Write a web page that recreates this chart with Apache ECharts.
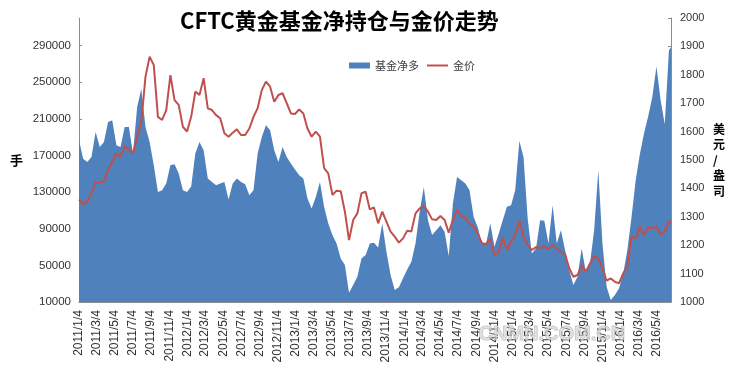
<!DOCTYPE html>
<html><head><meta charset="utf-8">
<script src="https://cdn.jsdelivr.net/npm/echarts@6/dist/echarts.min.js"></script>
<style>html,body{margin:0;padding:0;background:#fff}#c{width:738px;height:370px}</style>
</head><body><div id="c"></div>
<script>
// --- data (biweekly readings from 2011/1/4, last value is 2016/6/21) ---
const startDateLabel = '2011/1/4';
const endDateLabel = '2016/6/21';
const stepDays = 14;
const netLong = [
186500,166500,162900,168300,195500,179200,184700,206400,208300,181000,
179200,201000,201000,172000,222800,242800,201000,184700,159300,130200,
132000,139300,159300,160400,150200,132000,130200,136000,172000,184700,
175600,144800,141100,137500,139300,141100,121900,139300,144800,141100,
138600,126600,132000,172000,190100,202800,197400,175600,162900,179200,
168300,161100,154600,148400,144800,123000,112100,124700,141100,113900,
95700,83000,73900,57600,50300,20000,28500,37600,57600,61200,
73900,74600,69600,95700,64800,39400,23100,26000,35800,45600,
53900,73900,108400,135600,99300,83000,88400,93900,86600,60100,
117500,146500,142900,139300,132000,102900,91400,73900,73900,95700,
70200,84100,99300,113900,115700,132000,185700,168300,101200,63000,
68500,99300,98600,73900,115700,73900,88400,66700,44900,28500,
37600,68500,43000,52100,88400,153800,73900,26700,12200,17600,
24900,41200,66700,102900,142900,171300,193800,212600,233700,267100,
230100,203900,284600,288200
];
const goldPrice = [
1361,1345,1353,1385,1420,1420,1425,1465,1494,1523,
1512,1547,1538,1523,1582,1635,1793,1864,1834,1652,
1641,1676,1799,1711,1694,1617,1600,1652,1741,1729,
1788,1682,1676,1658,1647,1594,1582,1596,1608,1588,
1588,1611,1652,1682,1746,1776,1758,1705,1729,1735,
1700,1664,1662,1678,1664,1611,1582,1600,1582,1471,
1453,1377,1392,1390,1318,1218,1289,1312,1383,1388,
1326,1333,1277,1318,1283,1248,1230,1209,1224,1251,
1248,1312,1330,1338,1318,1291,1289,1303,1289,1244,
1289,1324,1303,1295,1277,1265,1239,1207,1204,1224,
1165,1174,1228,1183,1212,1236,1286,1230,1201,1183,
1193,1190,1195,1186,1201,1186,1178,1169,1119,1089,
1095,1130,1107,1136,1162,1154,1119,1075,1083,1071,
1066,1101,1124,1230,1224,1265,1236,1263,1259,1268,
1237,1248,1286,1277
];
const xTickLabels = [
'2011/1/4','2011/3/4','2011/5/4','2011/7/4','2011/9/4','2011/11/4',
'2012/1/4','2012/3/4','2012/5/4','2012/7/4','2012/9/4','2012/11/4',
'2013/1/4','2013/3/4','2013/5/4','2013/7/4','2013/9/4','2013/11/4',
'2014/1/4','2014/3/4','2014/5/4','2014/7/4','2014/9/4','2014/11/4',
'2015/1/4','2015/3/4','2015/5/4','2015/7/4','2015/9/4','2015/11/4',
'2016/1/4','2016/3/4','2016/5/4'
];

function parseD(s){const p=s.split('/').map(Number);return new Date(p[0],p[1]-1,p[2]).getTime();}
function fmtD(v){const d=new Date(v);return d.getFullYear()+'/'+(d.getMonth()+1)+'/'+d.getDate();}
const s0 = startDateLabel.split('/').map(Number);
const dates = netLong.map((_, i) => i === netLong.length - 1
  ? parseD(endDateLabel)
  : new Date(s0[0], s0[1]-1, s0[2] + stepDays * i).getTime());
const tickVals = xTickLabels.map(parseD);

const chart = echarts.init(document.getElementById('c'), null, {renderer:'canvas'});
const axisGray = '#8c8c8c';
const lab = {color:'#333', fontFamily:'Liberation Sans', fontSize:11.5};
const plain = v => String(v);
chart.setOption({
  animation:false,
  backgroundColor:'#fff',
  title:{text:'CFTC黄金基金净持仓与金价走势', left:180, top:10, padding:0,
    textStyle:{fontFamily:'Noto Sans CJK SC', fontWeight:'bold', fontSize:22, color:'#000'}},
  legend:{left:344, top:55, itemWidth:21, itemHeight:6, itemGap:8,
    textStyle:{fontFamily:'Noto Sans CJK SC', fontSize:11, color:'#404040'},
    data:[{name:'基金净多', icon:'rect'},
          {name:'金价', icon:'path://M0,0H21V2H0Z', itemStyle:{color:'#C0504D'}}]},
  grid:{left:79, right:67, top:18, bottom:68},
  xAxis:{type:'value', min:parseD(startDateLabel), max:parseD(endDateLabel),
    axisLine:{lineStyle:{color:axisGray}},
    axisTick:{show:true, inside:true, length:3, customValues:tickVals, lineStyle:{color:'#bbb'}},
    axisLabel:Object.assign({customValues:tickVals, rotate:90, margin:8, formatter:fmtD}, lab, {fontSize:12}),
    splitLine:{show:false}},
  yAxis:[
    {type:'value', min:10000, max:320000, interval:40000, position:'left',
      name:'手', nameLocation:'middle', nameRotate:0, nameGap:56,
      nameTextStyle:{fontFamily:'Noto Sans CJK SC', fontWeight:'bold', fontSize:13, color:'#000'},
      axisLine:{show:true, lineStyle:{color:axisGray}},
      axisTick:{show:true, inside:true, length:3, lineStyle:{color:axisGray}},
      axisLabel:Object.assign({showMaxLabel:false, margin:8, formatter:plain}, lab),
      splitLine:{show:false}},
    {type:'value', min:1000, max:2000, interval:100, position:'right',
      name:'美\n元\n/\n盎\n司', nameLocation:'middle', nameRotate:0, nameGap:42,
      nameTextStyle:{fontFamily:'Noto Sans CJK SC', fontWeight:'bold', fontSize:12, lineHeight:15.5, color:'#000', align:'left'},
      axisLine:{show:true, lineStyle:{color:axisGray}},
      axisTick:{show:true, inside:true, length:3, lineStyle:{color:axisGray}},
      axisLabel:Object.assign({margin:9, formatter:plain}, lab, {fontSize:11}),
      splitLine:{show:false}}
  ],
  series:[
    {name:'基金净多', type:'line', yAxisIndex:0, symbol:'none', z:1,
      data:dates.map((d,i)=>[d, netLong[i]]),
      itemStyle:{color:'#4F81BD'}, lineStyle:{width:0, color:'#4F81BD'},
      areaStyle:{color:'#4F81BD', opacity:1}},
    {name:'金价', type:'line', yAxisIndex:1, symbol:'none', z:3,
      data:dates.map((d,i)=>[d, goldPrice[i]]),
      itemStyle:{color:'#C0504D'}, lineStyle:{width:2, color:'#C0504D'}}
  ],
  graphic:[{type:'text', left:478, top:324, z:100, silent:true,
    style:{text:'CNMN.COM.CN', font:'bold 20px "Liberation Sans"', fill:'rgba(215,215,215,0.7)', stroke:'rgba(150,150,150,0.55)', lineWidth:1}}]
});
</script></body></html>
